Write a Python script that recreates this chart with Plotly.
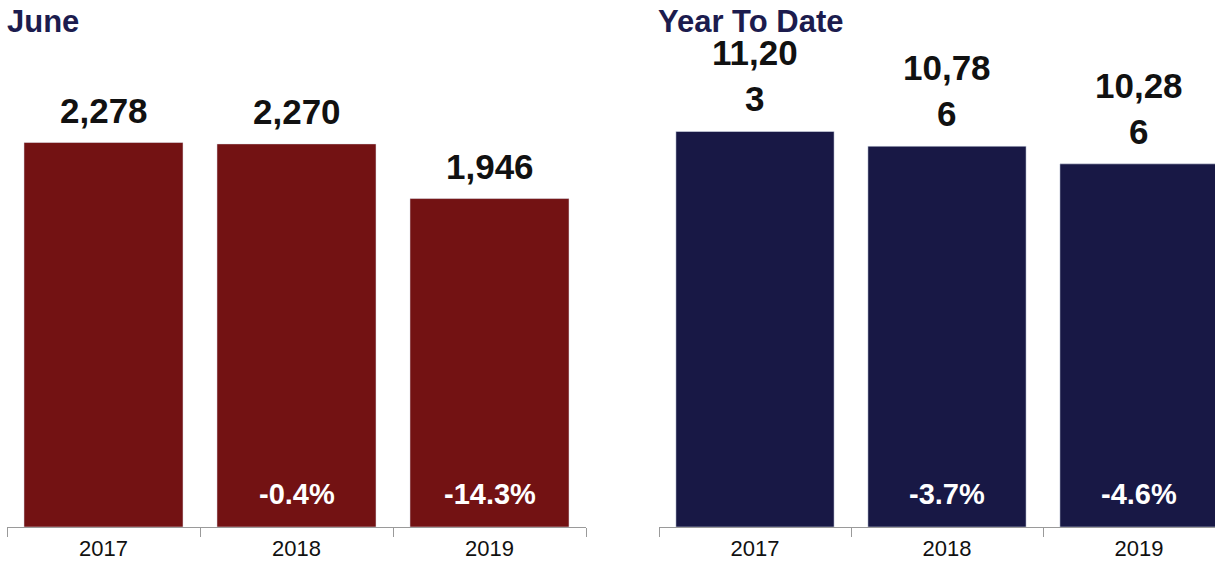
import plotly.graph_objects as go

# Monthly and year-to-date totals
years = ["2017", "2018", "2019"]
june_values = [2278, 2270, 1946]
ytd_values = [11203, 10786, 10286]
panel_titles = ["June", "Year To Date"]

RED = "#731213"
NAVY = "#181845"
TITLE_COLOR = "#1c1c4e"
SANS = "Liberation Sans, Arial, Helvetica, sans-serif"

W, H = 1215, 564
M_TOP, M_BOT = 60, 37
PLOT_H = H - M_TOP - M_BOT


def wrap_label(v, width=5):
    s = f"{v:,}"
    parts = [s[i:i + width] for i in range(0, len(s), width)]
    return "<br>".join(parts)


def pct_changes(vals):
    out = [None]
    for a, b in zip(vals[:-1], vals[1:]):
        out.append(f"{(b - a) / a * 100:.1f}%")
    return out


fig = go.Figure()

fig.add_trace(go.Bar(x=years, y=june_values, marker_color=RED, width=0.824,
                     xaxis="x", yaxis="y", hoverinfo="x+y"))
fig.add_trace(go.Bar(x=years, y=ytd_values, marker_color=NAVY, width=0.824,
                     xaxis="x2", yaxis="y2", hoverinfo="x+y"))

annotations = []
for xa, ya, vals in (("x", "y", june_values), ("x2", "y2", ytd_values)):
    for i, (v, p) in enumerate(zip(vals, pct_changes(vals))):
        annotations.append(dict(
            x=i, y=v, xref=xa, yref=ya, text=wrap_label(v),
            showarrow=False, yanchor="bottom", yshift=11,
            font=dict(family=SANS, size=35, color="#111111", weight="bold"),
        ))
        if p is not None:
            annotations.append(dict(
                x=i, y=0, xref=xa, yref=ya, text=p,
                showarrow=False, yanchor="middle", yshift=33,
                font=dict(family=SANS, size=29, color="white", weight="bold"),
            ))

title_y = 1 + (M_TOP - 21) / PLOT_H
for title, xpx in zip(panel_titles, (5, 656)):
    annotations.append(dict(
        x=xpx / W, y=title_y, xref="paper", yref="paper", text=title,
        showarrow=False, xanchor="left", yanchor="middle",
        font=dict(family=SANS, size=31, color=TITLE_COLOR, weight="bold"),
    ))

axis_common = dict(
    type="category", showline=True, linecolor="#9a9a9a", linewidth=1,
    ticks="outside", tickson="boundaries", ticklen=9, tickcolor="#9a9a9a",
    ticklabelstandoff=2,
    tickfont=dict(family=SANS, size=22, color="#111111"),
    showgrid=False, zeroline=False, fixedrange=True,
)
yaxis_common = dict(visible=False, showgrid=False, zeroline=False, fixedrange=True)

left_px = (7, 586)
right_px = (659, W)
cat_px_right = 192.0

fig.update_layout(
    width=W, height=H,
    margin=dict(l=0, r=0, t=M_TOP, b=M_BOT),
    paper_bgcolor="white", plot_bgcolor="white",
    showlegend=False,
    xaxis=dict(domain=[left_px[0] / W, left_px[1] / W], range=[-0.5, 2.5],
               anchor="y", **axis_common),
    xaxis2=dict(domain=[right_px[0] / W, 1.0],
                range=[-0.5, -0.5 + (right_px[1] - right_px[0]) / cat_px_right],
                anchor="y2", **axis_common),
    yaxis=dict(range=[0, 2767], anchor="x", **yaxis_common),
    yaxis2=dict(range=[0, 13228], anchor="x2", **yaxis_common),
    annotations=annotations,
)

fig.write_html("out.html")
